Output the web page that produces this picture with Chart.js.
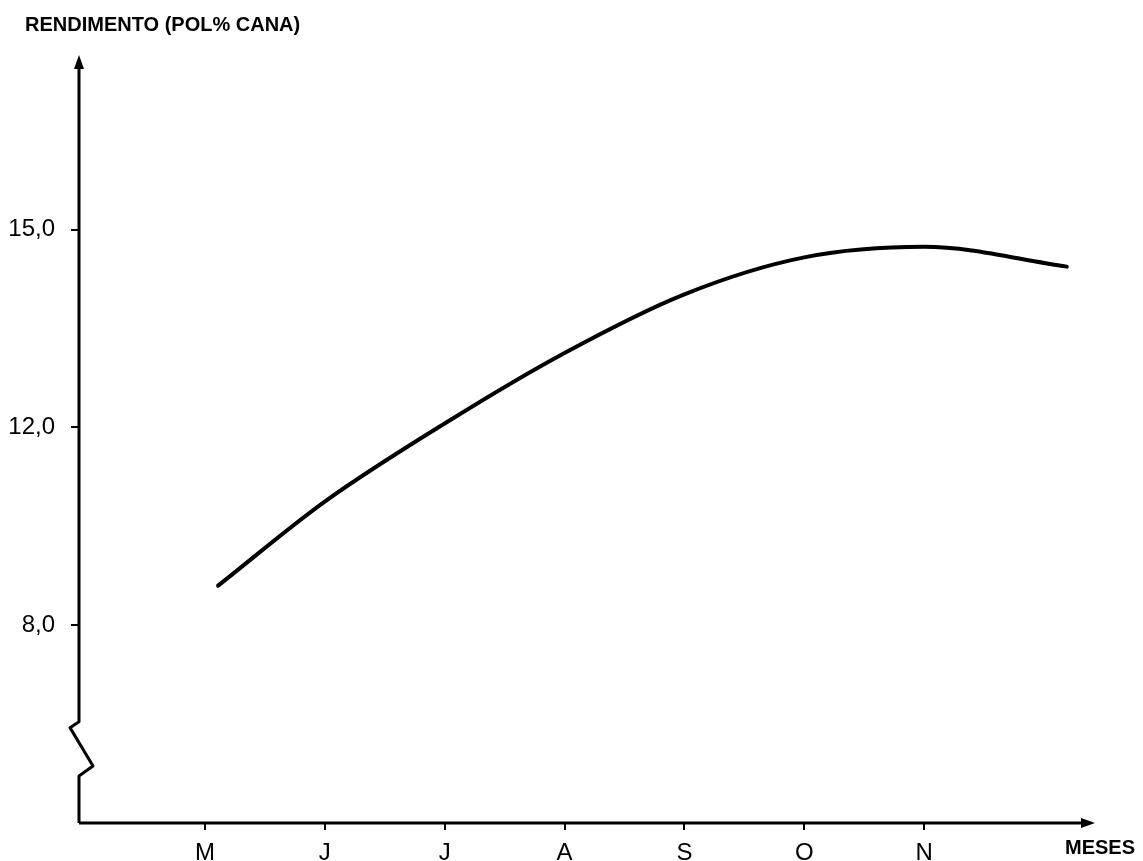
<!DOCTYPE html>
<html>
<head>
<meta charset="utf-8">
<script src="https://cdn.jsdelivr.net/npm/chart.js@4/dist/chart.umd.min.js"></script>
<style>
  body { margin: 0; background: #fff; }
  canvas { display: block; }
</style>
</head>
<body>
<canvas id="chart" width="1143" height="861"></canvas>
<script>
// months on the x axis (position 0 = M)
const months = ['M', 'J', 'J', 'A', 'S', 'O', 'N'];
// curve: month position and pol % cana
const monthPos = [0.11, 1, 2, 3, 4, 5, 6, 7.19];
const pol = [8.8, 10.5, 12.06, 13.13, 14.02, 14.58, 14.74, 14.44];
// y axis ticks
const yTickValues = [8, 12, 15];
const yTickLabels = ['8,0', '12,0', '15,0'];
// the y axis is drawn broken: these values sit at equal steps
const yBreaks = [0, 8, 12, 15];

function toPos(v) {
  const n = yBreaks.length;
  for (let i = 1; i < n; i++) {
    if (v <= yBreaks[i] || i === n - 1) {
      return (i - 1) + (v - yBreaks[i - 1]) / (yBreaks[i] - yBreaks[i - 1]);
    }
  }
}
function fromPos(p) {
  const n = yBreaks.length;
  let i = Math.min(Math.max(Math.floor(p), 0), n - 2);
  return yBreaks[i] + (p - i) * (yBreaks[i + 1] - yBreaks[i]);
}

class BrokenScale extends Chart.LinearScale {
  getPixelForValue(value) {
    const a = toPos(this.min), b = toPos(this.max);
    return this.getPixelForDecimal((toPos(value) - a) / (b - a));
  }
  getValueForPixel(pixel) {
    const a = toPos(this.min), b = toPos(this.max);
    return fromPos(a + this.getDecimalForPixel(pixel) * (b - a));
  }
}
BrokenScale.id = 'broken';
BrokenScale.defaults = Chart.LinearScale.defaults;
Chart.register(BrokenScale);

// axes with arrows, the break in the y axis, and the texts
const handDrawn = {
  id: 'handDrawn',
  afterDraw(chart) {
    const ctx = chart.ctx;
    const ca = chart.chartArea;
    const y = chart.scales.y;
    ctx.save();
    ctx.strokeStyle = '#000';
    ctx.fillStyle = '#000';
    ctx.lineWidth = 3;
    ctx.lineJoin = 'round';

    const zLow = y.getPixelForValue(1.9);
    const zHigh = y.getPixelForValue(4.1);
    ctx.beginPath();
    ctx.moveTo(ca.left, ca.bottom);
    ctx.lineTo(ca.left, zLow);
    ctx.lineTo(ca.left + 14, zLow - 10);
    ctx.lineTo(ca.left - 9, zHigh + 6);
    ctx.lineTo(ca.left, zHigh);
    ctx.lineTo(ca.left, ca.top + 10);
    ctx.stroke();
    ctx.beginPath();
    ctx.moveTo(ca.left, ca.top);
    ctx.lineTo(ca.left - 5, ca.top + 14);
    ctx.lineTo(ca.left + 5, ca.top + 14);
    ctx.closePath();
    ctx.fill();

    ctx.beginPath();
    ctx.moveTo(ca.left, ca.bottom);
    ctx.lineTo(ca.right - 10, ca.bottom);
    ctx.stroke();
    ctx.beginPath();
    ctx.moveTo(ca.right, ca.bottom);
    ctx.lineTo(ca.right - 14, ca.bottom - 5);
    ctx.lineTo(ca.right - 14, ca.bottom + 5);
    ctx.closePath();
    ctx.fill();

    ctx.font = 'bold 20px "Liberation Sans"';
    ctx.textBaseline = 'middle';
    ctx.textAlign = 'left';
    ctx.fillText('RENDIMENTO (POL% CANA)', 25, 25);
    ctx.fillText('MESES', 1065, 848);
    ctx.restore();
  }
};

new Chart(document.getElementById('chart'), {
  type: 'line',
  data: {
    datasets: [{
      data: monthPos.map((m, i) => ({ x: m, y: pol[i] })),
      borderColor: '#000',
      borderWidth: 4,
      borderCapStyle: 'round',
      pointRadius: 0,
      cubicInterpolationMode: 'monotone'
    }]
  },
  options: {
    responsive: false,
    animation: false,
    layout: { padding: { top: 55, right: 48, left: 0, bottom: 0 } },
    plugins: { legend: { display: false }, tooltip: { enabled: false } },
    scales: {
      x: {
        type: 'linear',
        min: -1.05,
        max: 7.425,
        afterBuildTicks: s => { s.ticks = months.map((m, i) => ({ value: i })); },
        afterFit: s => { s.height = 38; },
        ticks: {
          callback: v => months[v],
          color: '#000',
          font: { family: 'Liberation Sans', size: 24 },
          padding: 9,
          maxRotation: 0,
          autoSkip: false
        },
        grid: { drawOnChartArea: false, tickLength: 7, color: '#000', lineWidth: 2 },
        border: { display: false }
      },
      y: {
        type: 'broken',
        min: 0,
        max: 17.65,
        afterBuildTicks: s => { s.ticks = yTickValues.map(v => ({ value: v })); },
        afterFit: s => { s.width = 79; },
        ticks: {
          callback: v => yTickLabels[yTickValues.indexOf(v)],
          color: '#000',
          font: { family: 'Liberation Sans', size: 24 },
          padding: 16,
          autoSkip: false
        },
        grid: { drawOnChartArea: false, tickLength: 8, color: '#000', lineWidth: 2 },
        border: { display: false }
      }
    }
  },
  plugins: [handDrawn]
});
</script>
</body>
</html>
